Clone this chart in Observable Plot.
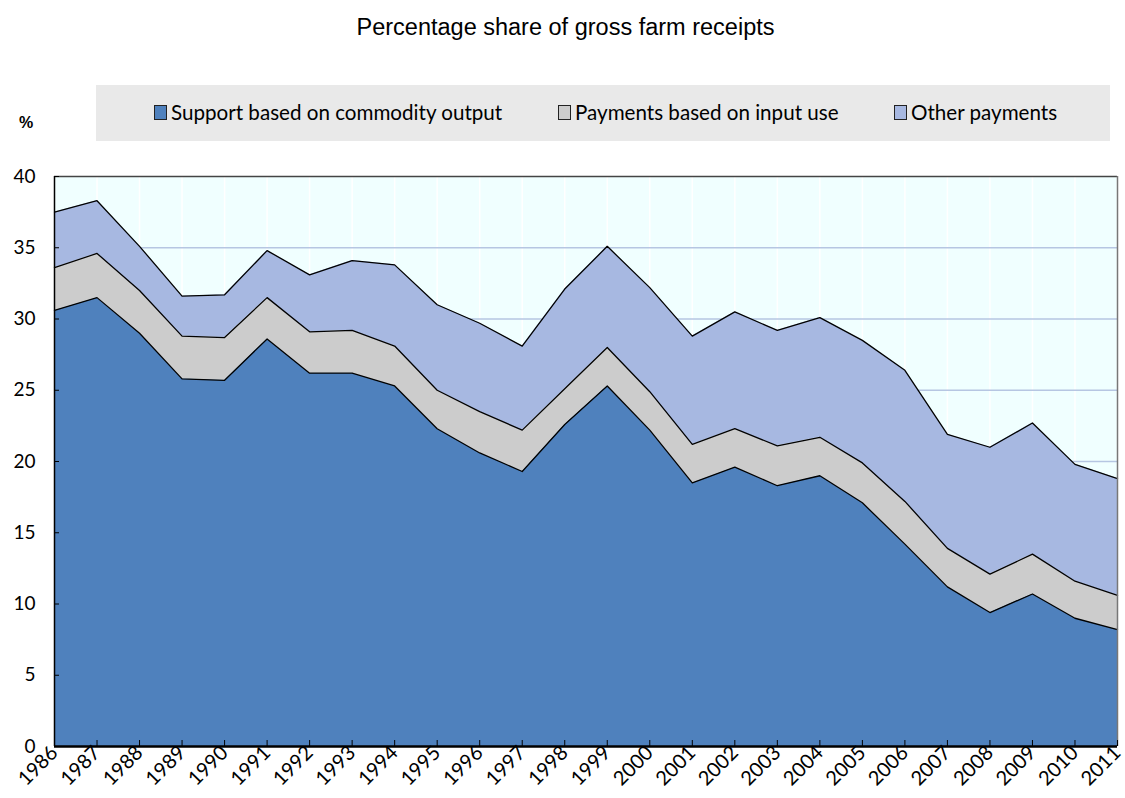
<!DOCTYPE html>
<html>
<head>
<meta charset="utf-8">
<script src="https://cdn.jsdelivr.net/npm/d3@7"></script>
<script src="https://cdn.jsdelivr.net/npm/@observablehq/plot@0.6"></script>
<style>
  html, body { margin: 0; padding: 0; background: #fff; }
  #wrap { position: relative; width: 1125px; height: 798px; overflow: hidden; }
  #title { position: absolute; left: 0; top: 14px; width: 1131px; text-align: center;
    font-family: "Liberation Sans", Arial, sans-serif; font-size: 23.5px; color: #000; }
  #legend { position: absolute; left: 96px; top: 85px; width: 1014px; height: 56px; background: #e9e9e9; }
  .item { position: absolute; top: 15px; font-family: Lato, "Open Sans", sans-serif; font-size: 20.6px; color: #000; white-space: nowrap; display: flex; align-items: center; }
  .sw { display: inline-block; width: 11px; height: 13px; border: 1px solid #222; margin-right: 4px; }
  #pct { position: absolute; left: 19px; top: 114px; font-family: "Liberation Sans", Arial, sans-serif; font-weight: bold; font-size: 16px; }
  #chart { position: absolute; left: 0; top: 150px; }
</style>
</head>
<body>
<div id="wrap">
  <div id="title">Percentage share of gross farm receipts</div>
  <div id="legend"></div>
  <div id="pct">%</div>
  <div id="chart"></div>
</div>
<script>
const years = [1986,1987,1988,1989,1990,1991,1992,1993,1994,1995,1996,1997,1998,1999,2000,2001,2002,2003,2004,2005,2006,2007,2008,2009,2010,2011];
const seriesNames = ["Support based on commodity output", "Payments based on input use", "Other payments"];
const seriesColors = ["#4f81bd", "#cccccc", "#a7b8e1"];
const supportOutput = [30.6,31.5,29.0,25.8,25.7,28.6,26.2,26.2,25.3,22.3,20.6,19.3,22.6,25.3,22.2,18.5,19.6,18.3,19.0,17.1,14.2,11.2,9.4,10.7,9.0,8.2];
const inputPayments = [3.0,3.1,3.0,3.0,3.0,2.9,2.9,3.0,2.8,2.7,2.9,2.9,2.5,2.7,2.7,2.7,2.7,2.8,2.7,2.8,3.0,2.7,2.7,2.8,2.6,2.4];
const otherPayments = [3.9,3.7,3.1,2.8,3.0,3.3,4.0,4.9,5.7,6.0,6.2,5.9,7.0,7.1,7.3,7.6,8.2,8.1,8.4,8.6,9.2,8.0,8.9,9.2,8.2,8.2];
const yTicks = [0,5,10,15,20,25,30,35,40];
const gridTicks = [5,10,15,20,25,30,35];

const seriesValues = [supportOutput, inputPayments, otherPayments];
const data = [];
seriesNames.forEach((s, i) => years.forEach((y, j) => data.push({year: y, series: s, value: seriesValues[i][j]})));

// Legend
const legend = document.getElementById("legend");
const legendLeft = [58, 462, 798];
seriesNames.forEach((s, i) => {
  const it = document.createElement("div");
  it.className = "item";
  it.style.left = legendLeft[i] + "px";
  it.innerHTML = `<span class="sw" style="background:${seriesColors[i]}"></span>${s}`;
  legend.appendChild(it);
});

const stackOpts = {x: "year", y: "value", z: "series", order: seriesNames};

const chart = Plot.plot({
  width: 1125,
  height: 648,
  marginLeft: 54,
  marginRight: 8,
  marginTop: 26,
  marginBottom: 52,
  style: {fontFamily: "Lato, 'Open Sans', sans-serif", fontSize: "19px", color: "#000", background: "transparent", overflow: "visible"},
  x: {type: "linear", domain: [1986, 2011]},
  y: {domain: [0, 40]},
  color: {domain: seriesNames, range: seriesColors},
  marks: [
    Plot.frame({fill: "#f0ffff", stroke: null}),
    Plot.ruleX(years, {stroke: "#ffffff", strokeWidth: 1.5}),
    Plot.ruleY(gridTicks, {stroke: "#b6c6e2", strokeWidth: 1.5}),
    Plot.areaY(data, Plot.stackY({...stackOpts, fill: "series"})),
    Plot.lineY(data, Plot.stackY2({...stackOpts, stroke: "#000", strokeWidth: 1.3})),
    Plot.ruleY([40], {stroke: "#444", strokeWidth: 1.5}),
    Plot.ruleX([2011], {stroke: "#777", strokeWidth: 1.5}),
    Plot.ruleX([1986], {stroke: "#000", strokeWidth: 1.5}),
    Plot.axisY({ticks: yTicks, tickSize: -5, tickPadding: 24, label: null, tickFormat: d => d, stroke: "#000"}),
    Plot.axisX({ticks: years, tickSize: -6, tickRotate: -45, tickPadding: 9, label: null, fontSize: 20, tickFormat: d => String(d), stroke: "#000"}),
    Plot.ruleY([0], {stroke: "#000", strokeWidth: 2.5})
  ]
});
document.getElementById("chart").appendChild(chart);
</script>
</body>
</html>
